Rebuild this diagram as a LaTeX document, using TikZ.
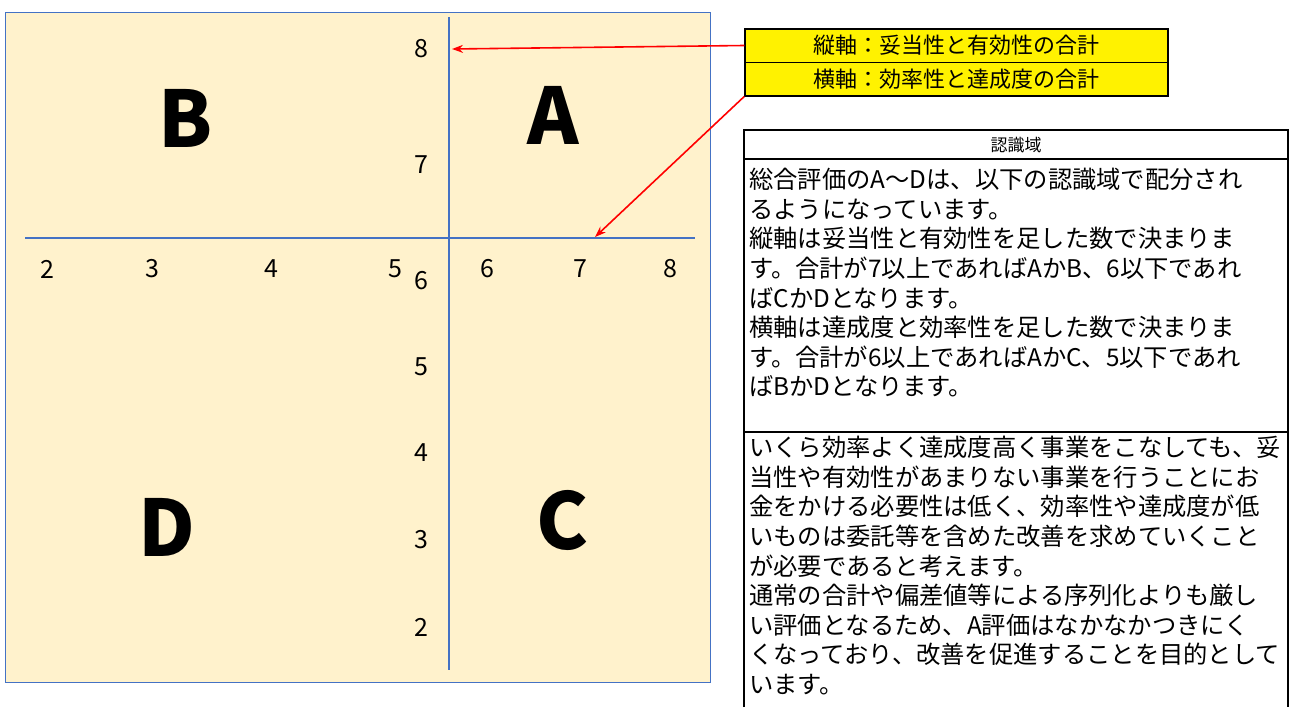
\documentclass[tikz,border=0pt]{standalone}
\usepackage{fontspec}
\setmainfont{Noto Sans CJK JP}
\usepackage{tikz}
\usetikzlibrary{arrows.meta,positioning}
\definecolor{panelfill}{HTML}{FFF2CC}
\definecolor{axisblue}{HTML}{4472C4}

\begin{document}
\begin{tikzpicture}[x=1pt,y=-1pt,
  axis/.style={axisblue,line width=2pt},
  num/.style={font=\fontsize{25}{25}\selectfont,inner sep=0pt},
  grade/.style={font=\fontsize{78}{78}\selectfont\bfseries,inner sep=0pt},
  ybox/.style={draw=black,line width=1.5pt,fill=yellow,minimum width=423pt,minimum height=33.5pt,inner sep=0pt,font=\fontsize{22}{22}\selectfont},
  pointer/.style={red,line width=1.6pt,-{Stealth[length=11pt,width=8pt]}},
  body/.style={anchor=north west,inner sep=0pt,align=left,font=\fontsize{24.3}{29.6}\selectfont}]
\useasboundingbox (0,0) rectangle (1289,707);
% quadrant panel
\draw[axisblue,fill=panelfill,line width=1pt] (5,12) rectangle (710,682);
\draw[axis] (449,17) -- (449,670);
\draw[axis] (25,238) -- (695,238);
\foreach \v/\y in {8/49,7/165,6/281,5/367,4/453,3/540,2/627}
  \node[num] (v\v) at (421,\y) {\v};
\foreach \h/\x in {2/47,3/152,4/271,5/395,6/487,7/580,8/670}
  \node[num] (h\h) at (\x,269) {\h};
\node[grade] (gradeA) at (553,115) {A};
\node[grade] (gradeB) at (186,118) {B};
\node[grade] (gradeC) at (563,520) {C};
\node[grade] (gradeD) at (167,527) {D};
% axis captions
\node[ybox] (vaxis) at (956.5,45.5) {縦軸：妥当性と有効性の合計};
\node[ybox,below=-1.5pt of vaxis] (haxis) {横軸：効率性と達成度の合計};
\coordinate (vtip) at (452,49);
\coordinate (htip) at (595,237);
\draw[pointer] (vaxis.west) -- (vtip);
\draw[pointer] (haxis.south west) -- (htip);
% table
\draw[line width=1.2pt] (744,707) -- (744,130) -- (1288,130) -- (1288,707);
\draw[line width=1.2pt] (744,159) -- (1288,159);
\draw[line width=1.2pt] (744,432) -- (1288,432);
\node[font=\fontsize{17}{17}\selectfont] (head) at (1016,145) {認識域};
\node[body] (rule) at (749,168) {総合評価のA～Dは、以下の認識域で配分され\\
るようになっています。\\
縦軸は妥当性と有効性を足した数で決まりま\\
す。合計が7以上であればAかB、6以下であれ\\
ばCかDとなります。\\
横軸は達成度と効率性を足した数で決まりま\\
す。合計が6以上であればAかC、5以下であれ\\
ばBかDとなります。};
\node[body] (aim) at (749,436) {いくら効率よく達成度高く事業をこなしても、妥\\
当性や有効性があまりない事業を行うことにお\\
金をかける必要性は低く、効率性や達成度が低\\
いものは委託等を含めた改善を求めていくこと\\
が必要であると考えます。\\
通常の合計や偏差値等による序列化よりも厳し\\
い評価となるため、A評価はなかなかつきにく\\
くなっており、改善を促進することを目的として\\
います。};
\end{tikzpicture}
\end{document}
